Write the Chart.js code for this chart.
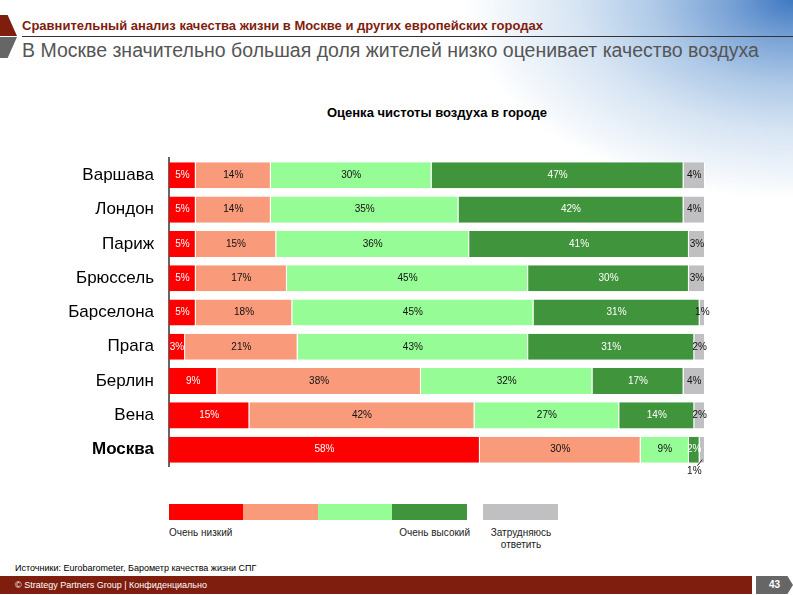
<!DOCTYPE html>
<html>
<head>
<meta charset="utf-8">
<script src="https://cdn.jsdelivr.net/npm/chart.js@4"></script>
<style>
  body { margin: 0; width: 793px; height: 595px; position: relative; overflow: hidden; background: #fff; font-family: Arial, "Liberation Sans", sans-serif; }
  .map { position: absolute; left: 440px; top: 0; width: 353px; height: 230px;
         background: radial-gradient(ellipse 330px 200px at 100% 0%, #3f79c2 0%, #7aa3d6 20%, #aec9e7 42%, #d6e4f3 65%, rgba(255,255,255,0) 100%); }
  .acc1 { position: absolute; left: 0; top: 15px; width: 17px; height: 21px; background: #7f1d0e; clip-path: polygon(0 0, 45% 0, 100% 100%, 0 100%); }
  .acc2 { position: absolute; left: 0; top: 37px; width: 17px; height: 21px; background: #666; clip-path: polygon(0 0, 100% 0, 45% 100%, 0 100%); }
  .sub { position: absolute; left: 22px; top: 18px; font: bold 13px "Liberation Sans Narrow", "Arial Narrow", sans-serif; color: #7f1d0e; }
  .rule { position: absolute; left: 22px; top: 36px; width: 771px; height: 1px; background: #333; }
  .main { position: absolute; left: 22px; top: 39px; font: 19.5px "Liberation Sans Narrow", "Arial Narrow", sans-serif; color: #555; white-space: nowrap; }
  .ctitle { position: absolute; left: 0; width: 874px; top: 105px; text-align: center; font: bold 13px Arial, sans-serif; color: #000; }
  #wrap { position: absolute; left: 0; top: 133px; width: 720px; height: 359px; }
  .leg { position: absolute; font: 10px Arial, sans-serif; color: #222; }
  .src { position: absolute; left: 15px; top: 563px; font: 9px "Liberation Sans Narrow", "Arial Narrow", sans-serif; color: #000; }
  .foot { position: absolute; left: 0; top: 576px; width: 752px; height: 18px; background: #7f1d0e; color: #fff; font: 9px "Liberation Sans Narrow", "Arial Narrow", sans-serif; line-height: 18px; padding-left: 15px; box-sizing: border-box; }
  .page { position: absolute; left: 756px; top: 576px; width: 37px; height: 18px; background: #666; color: #fff; font: bold 10px Arial, sans-serif; line-height: 18px; text-align: center; clip-path: polygon(0 0, 85% 0, 100% 50%, 85% 100%, 0 100%); }
</style>
</head>
<body>
<div class="map"></div>
<div class="acc1"></div>
<div class="acc2"></div>
<div class="sub">Сравнительный анализ качества жизни в Москве и других европейских городах</div>
<div class="rule"></div>
<div class="main">В Москве значительно большая доля жителей низко оценивает качество воздуха</div>
<div class="ctitle">Оценка чистоты воздуха в городе</div>
<div id="wrap"><canvas id="airChart"></canvas></div>
<div id="legend"></div>
<div class="src">Источники: Eurobarometer, Барометр качества жизни СПГ</div>
<div class="foot">© Strategy Partners Group | Конфиденциально</div>
<div class="page">43</div>
<script>
// Города (сверху вниз)
const cities = ['Варшава', 'Лондон', 'Париж', 'Брюссель', 'Барселона', 'Прага', 'Берлин', 'Вена', 'Москва'];

// Доли ответов, %
const veryLow  = [5, 5, 5, 5, 5, 3, 9, 15, 58];
const low      = [14, 14, 15, 17, 18, 21, 38, 42, 30];
const high     = [30, 35, 36, 45, 45, 43, 32, 27, 9];
const veryHigh = [47, 42, 41, 30, 31, 31, 17, 14, 2];
const noAnswer = [4, 4, 3, 3, 1, 2, 4, 2, 1];

const seriesColors = ['#ff0000', '#f99a7b', '#96fc96', '#40953c', '#c0c0c2'];
const labelColors  = ['#fff', '#111', '#111', '#fff', '#111'];

// Подписи процентов по центру сегментов
const segmentLabels = {
    id: 'segmentLabels',
    afterDatasetsDraw(chart) {
        const ctx = chart.ctx;
        ctx.save();
        ctx.font = '10px Arial';
        ctx.textAlign = 'center';
        ctx.textBaseline = 'middle';
        chart.data.datasets.forEach((ds, i) => {
            const meta = chart.getDatasetMeta(i);
            meta.data.forEach((bar, j) => {
                const v = ds.data[j];
                const x = (bar.x + bar.base) / 2;
                const prev = i > 0 ? chart.data.datasets[i - 1].data[j] : 99;
                if (v <= 1 && prev <= 2) {
                    // выноска под столбцом
                    const yb = bar.y + bar.height / 2;
                    ctx.strokeStyle = '#222';
                    ctx.lineWidth = 1;
                    ctx.beginPath();
                    ctx.moveTo(x, yb - 3);
                    ctx.lineTo(x - 5, yb + 3);
                    ctx.stroke();
                    ctx.fillStyle = '#111';
                    ctx.fillText(v + '%', x - 8, yb + 9);
                    return;
                }
                ctx.fillStyle = labelColors[i];
                ctx.fillText(v + '%', x, bar.y);
            });
        });
        ctx.restore();
    }
};

const mkSet = (data, i) => ({
    data: data,
    backgroundColor: seriesColors[i],
    borderColor: '#fff',
    borderWidth: { left: 0, right: 1, top: 0, bottom: 0 },
    borderSkipped: false,
    barPercentage: 0.76,
    categoryPercentage: 1
});

new Chart(document.getElementById('airChart'), {
    type: 'bar',
    data: {
        labels: cities,
        datasets: [mkSet(veryLow, 0), mkSet(low, 1), mkSet(high, 2), mkSet(veryHigh, 3), mkSet(noAnswer, 4)]
    },
    options: {
        indexAxis: 'y',
        responsive: true,
        maintainAspectRatio: false,
        animation: false,
        layout: { padding: { top: 0, right: 15, bottom: 23, left: 0 } },
        scales: {
            x: { stacked: true, min: 0, max: 100, display: false },
            y: {
                stacked: true,
                afterFit: (scale) => { scale.width = 169; },
                grid: { display: false, drawTicks: false },
                border: { display: true, color: '#666', width: 2 },
                ticks: {
                    padding: 15,
                    color: '#000',
                    font: (c) => ({ family: 'Arial', size: 17, weight: c.index === 8 ? 'bold' : 'normal' })
                }
            }
        },
        plugins: {
            legend: { display: false },
            tooltip: { enabled: false }
        }
    },
    plugins: [segmentLabels]
});

// Легенда
const legendBoxes = [[169, 243], [243, 318], [318, 392], [392, 467], [483, 558]];
const legend = document.getElementById('legend');
legendBoxes.forEach((b, i) => {
    const d = document.createElement('div');
    d.style.cssText = `position:absolute;left:${b[0]}px;top:504px;width:${b[1] - b[0]}px;height:16px;background:${seriesColors[i]}`;
    legend.appendChild(d);
});
legend.insertAdjacentHTML('beforeend',
    '<div class="leg" style="left:169px;top:527px">Очень низкий</div>' +
    '<div class="leg" style="left:392px;width:78px;text-align:right;top:527px">Очень высокий</div>' +
    '<div class="leg" style="left:470px;width:102px;text-align:center;top:527px;line-height:12px">Затрудняюсь<br>ответить</div>');
</script>
</body>
</html>
